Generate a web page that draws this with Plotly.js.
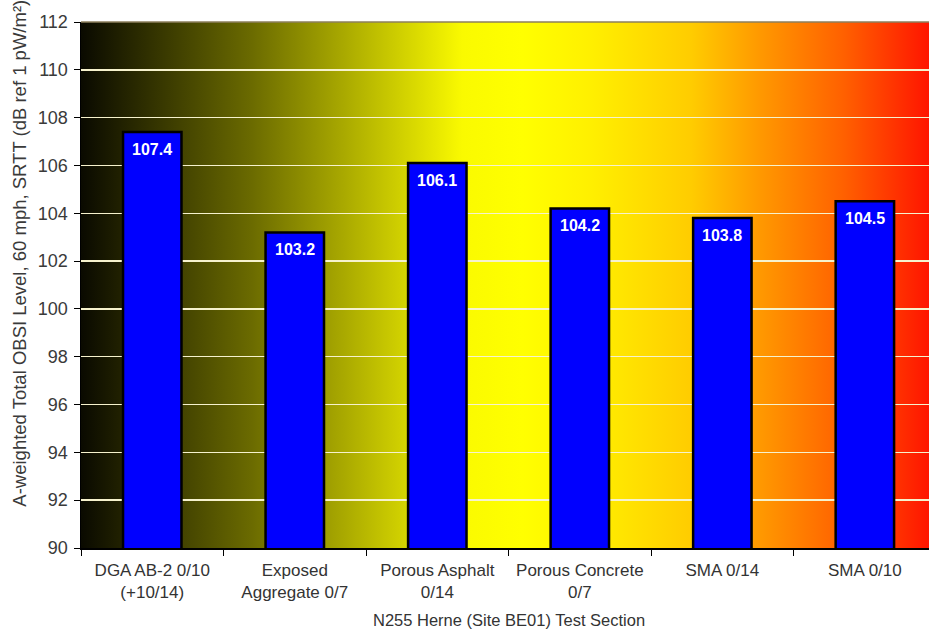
<!DOCTYPE html>
<html>
<head>
<meta charset="utf-8">
<script src="https://cdn.plot.ly/plotly-3.0.1.min.js"></script>
<style>
html,body{margin:0;padding:0;overflow:hidden;background:#fff;}
#chart{width:929px;height:630px;}
</style>
</head>
<body>
<div id="chart"></div>
<script>
// ---- data ----
var categories = [
  "DGA AB-2 0/10<br>(+10/14)",
  "Exposed<br>Aggregate 0/7",
  "Porous Asphalt<br>0/14",
  "Porous Concrete<br>0/7",
  "SMA 0/14",
  "SMA 0/10"
];
var obsiValues = [107.4, 103.2, 106.1, 104.2, 103.8, 104.5];
var valueLabels = ["107.4", "103.2", "106.1", "104.2", "103.8", "104.5"];
var yTickValues = [90, 92, 94, 96, 98, 100, 102, 104, 106, 108, 110, 112];
var xTitle = "N255 Herne (Site BE01) Test Section";
var yTitle = "A-weighted Total OBSI Level, 60 mph, SRTT (dB ref 1 pW/m²)";

// ---- background gradient (decoration) ----
var stops = [
  [0, "#0a0a00"], [0.2, "#6a6a00"], [0.45, "#fafa00"], [0.52, "#ffff00"],
  [0.6, "#fff000"], [0.72, "#ffcc00"], [0.8, "#ff9900"], [0.9, "#ff6000"], [1, "#ff1500"]
];
var svg = '<svg xmlns="http://www.w3.org/2000/svg" width="1000" height="100" preserveAspectRatio="none">' +
  '<defs><linearGradient id="g" x1="0" y1="0" x2="1" y2="0">' +
  stops.map(function(s){return '<stop offset="'+s[0]+'" stop-color="'+s[1]+'"/>';}).join('') +
  '</linearGradient></defs><rect width="1000" height="100" fill="url(#g)"/></svg>';
var gradUri = "data:image/svg+xml;charset=utf-8," + encodeURIComponent(svg);

var font = "Liberation Sans, Arial, Helvetica, sans-serif";

var trace = {
  type: "bar",
  x: categories,
  y: obsiValues,
  marker: {color: "#0000ff", line: {color: "#000000", width: 2.5}},
  hoverinfo: "x+y"
};

var annotations = categories.map(function(c, i){
  return {
    x: c, y: obsiValues[i], xref: "x", yref: "y",
    text: "<b>" + valueLabels[i] + "</b>",
    showarrow: false, yanchor: "top", yshift: -7,
    font: {family: font, size: 16, color: "#ffffff"}
  };
});
annotations.push({
  xref: "paper", yref: "paper", x: -0.073, y: 0.074,
  xanchor: "center", yanchor: "bottom", textangle: -90,
  text: yTitle, showarrow: false,
  font: {family: font, size: 18.5, color: "#3a3a3a"}
});
annotations.push({
  xref: "x", yref: "paper", x: 2.5, y: -0.137,
  xanchor: "center", yanchor: "middle",
  text: xTitle, showarrow: false,
  font: {family: font, size: 16.5, color: "#333333"}
});

var layout = {
  width: 929, height: 630,
  margin: {l: 81, r: 0, t: 22, b: 82, pad: 0},
  paper_bgcolor: "#ffffff",
  plot_bgcolor: "rgba(0,0,0,0)",
  showlegend: false,
  bargap: 0.59,
  font: {family: font, color: "#333333"},
  xaxis: {
    type: "category",
    range: [-0.5, 5.45],
    tickson: "boundaries",
    ticks: "outside", ticklen: 6, tickcolor: "#000", tickwidth: 1,
    ticklabelstandoff: 6,
    showline: true, linecolor: "#000", linewidth: 1.5,
    showgrid: false, zeroline: false,
    tickfont: {family: font, size: 17, color: "#333333"}
  },
  yaxis: {
    range: [90, 112],
    tickvals: yTickValues,
    ticks: "outside", ticklen: 6, tickcolor: "#000", tickwidth: 1,
    ticklabelstandoff: 2,
    showline: true, linecolor: "#000", linewidth: 1.5,
    showgrid: true, gridcolor: "#f6f2cc", gridwidth: 1.5,
    zeroline: false,
    tickfont: {family: font, size: 18, color: "#3a3a3a"}
  },
  images: [{
    source: gradUri, xref: "paper", yref: "paper",
    x: 0, y: 1, sizex: 1, sizey: 1, xanchor: "left", yanchor: "top",
    sizing: "stretch", layer: "below"
  }],
  shapes: [{
    type: "line", xref: "paper", yref: "paper", x0: 0, x1: 1, y0: 1, y1: 1,
    line: {color: "#8c7f5c", width: 1.5}
  }],
  annotations: annotations
};

Plotly.newPlot("chart", [trace], layout, {displayModeBar: false, staticPlot: true});
</script>
</body>
</html>
